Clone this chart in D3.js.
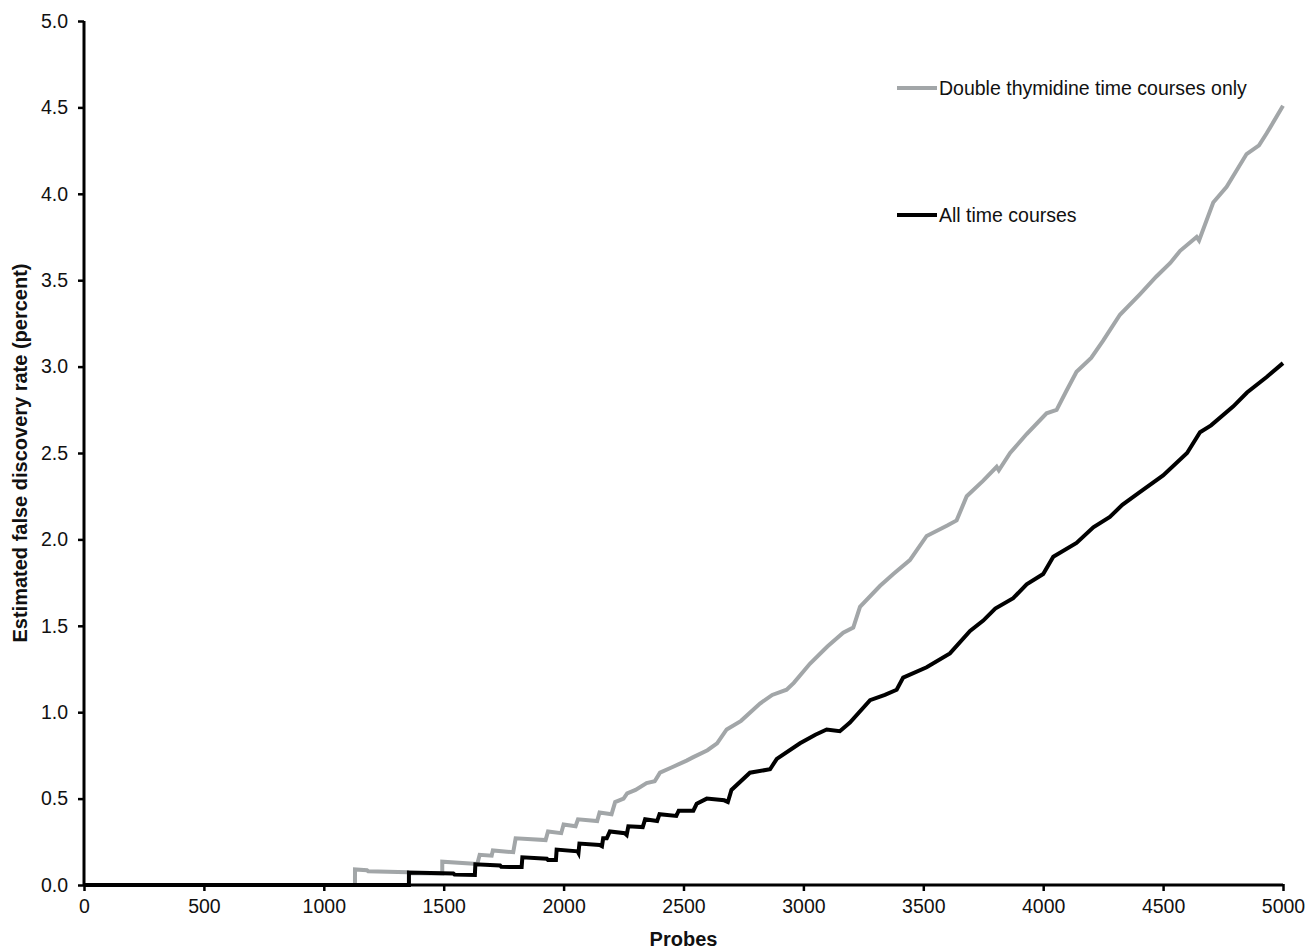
<!DOCTYPE html>
<html>
<head>
<meta charset="utf-8">
<script src="https://cdn.jsdelivr.net/npm/d3@7"></script>
<style>
  body { margin: 0; background: #fff; }
  text { font-family: "Liberation Sans", Arial, sans-serif; }
</style>
</head>
<body>
<svg id="chart"></svg>
<script>
// Series: probes and estimated FDR (percent)
var grayProbes = [0, 1130, 1130, 1180, 1185, 1350, 1355, 1494, 1494, 1610, 1640, 1650, 1700, 1705, 1790, 1800,
  1925, 1935, 1990, 2000, 2050, 2060, 2140, 2150, 2200, 2215, 2250, 2265, 2300, 2346, 2380, 2402, 2450,
  2513, 2541, 2600, 2640, 2680, 2740, 2819, 2870, 2930, 2960, 3027, 3100, 3166, 3208, 3236, 3319, 3375,
  3444, 3514, 3600, 3639, 3681, 3750, 3806, 3815, 3862, 3931, 4014, 4056, 4097, 4139, 4200, 4250, 4320,
  4404, 4471, 4530, 4571, 4640, 4650, 4709, 4765, 4848, 4900, 4932, 5000];
var grayValues = [0, 0, 0.09, 0.085, 0.08, 0.074, 0.068, 0.067, 0.135, 0.124, 0.122, 0.175, 0.17, 0.2, 0.19, 0.27,
  0.26, 0.31, 0.30, 0.35, 0.34, 0.38, 0.37, 0.42, 0.41, 0.48, 0.50, 0.53, 0.55, 0.59, 0.60, 0.65, 0.68,
  0.72, 0.74, 0.78, 0.82, 0.90, 0.95, 1.05, 1.10, 1.13, 1.17, 1.28, 1.38, 1.46, 1.49, 1.61, 1.73, 1.80,
  1.88, 2.02, 2.08, 2.11, 2.25, 2.34, 2.42, 2.40, 2.50, 2.61, 2.73, 2.75, 2.86, 2.97, 3.05, 3.15, 3.30,
  3.42, 3.52, 3.60, 3.67, 3.75, 3.73, 3.95, 4.04, 4.23, 4.28, 4.35, 4.51];

var blackProbes = [0, 1355, 1355, 1540, 1545, 1630, 1632, 1735, 1740, 1825, 1828, 1930, 1935, 1968, 1971, 2058,
  2062, 2066, 2150, 2160, 2165, 2180, 2193, 2255, 2263, 2270, 2330, 2340, 2390, 2400, 2470, 2480, 2541,
  2555, 2597, 2670, 2685, 2700, 2777, 2861, 2889, 2986, 3050, 3097, 3152, 3194, 3278, 3340, 3389, 3416,
  3514, 3611, 3695, 3750, 3800, 3875, 3931, 4000, 4042, 4139, 4209, 4278, 4330, 4400, 4500, 4600, 4654,
  4700, 4793, 4850, 4932, 5000];
var blackValues = [0, 0, 0.072, 0.066, 0.06, 0.058, 0.12, 0.113, 0.105, 0.104, 0.16, 0.152, 0.145, 0.145, 0.205, 0.195,
  0.185, 0.24, 0.232, 0.225, 0.27, 0.27, 0.31, 0.30, 0.29, 0.34, 0.335, 0.38, 0.37, 0.41, 0.40, 0.43, 0.43,
  0.47, 0.50, 0.49, 0.48, 0.55, 0.65, 0.67, 0.73, 0.82, 0.87, 0.90, 0.89, 0.94, 1.07, 1.10, 1.13, 1.20,
  1.26, 1.34, 1.47, 1.53, 1.60, 1.66, 1.74, 1.80, 1.90, 1.98, 2.07, 2.13, 2.20, 2.27, 2.37, 2.50, 2.62,
  2.66, 2.77, 2.85, 2.94, 3.02];

var seriesNames = ["Double thymidine time courses only", "All time courses"];
var seriesColors = ["#a2a6a8", "#000000"];

var xTicks = [0, 500, 1000, 1500, 2000, 2500, 3000, 3500, 4000, 4500, 5000];
var yTicks = [0, 0.5, 1, 1.5, 2, 2.5, 3, 3.5, 4, 4.5, 5];

var width = 1311, height = 952;
var margin = {left: 84, right: 28, top: 21, bottom: 67};

var svg = d3.select("#chart")
  .attr("width", width)
  .attr("height", height);

var x = d3.scaleLinear().domain([0, 5000]).range([margin.left, width - margin.right]);
var y = d3.scaleLinear().domain([0, 5]).range([height - margin.bottom, margin.top]);

// Axes
var xAxis = svg.append("g")
  .attr("transform", "translate(0," + y(0) + ")")
  .call(d3.axisBottom(x).tickValues(xTicks).tickSize(6).tickPadding(8).tickFormat(d3.format("d")));

var yAxis = svg.append("g")
  .attr("transform", "translate(" + x(0) + ",0)")
  .call(d3.axisLeft(y).tickValues(yTicks).tickSize(6).tickPadding(10).tickFormat(d3.format(".1f")));

[xAxis, yAxis].forEach(function (a) {
  a.select(".domain").attr("stroke", "#000").attr("stroke-width", 3);
  a.selectAll(".tick line").attr("stroke", "#000").attr("stroke-width", 2.5);
  a.selectAll(".tick text")
    .attr("fill", "#111")
    .style("font-size", "19.5px")
    .style("font-family", "'Liberation Sans', Arial, sans-serif");
});
xAxis.selectAll(".tick line").attr("y1", -1);
xAxis.select(".domain").attr("d", "M" + x(0) + ",0H" + x(5000));
yAxis.select(".domain").attr("d", "M0," + y(0) + "V" + y(5));

// Lines
var line = d3.line()
  .x(function (d) { return x(d[0]); })
  .y(function (d) { return y(d[1]); });

var grayData = d3.zip(grayProbes, grayValues);
var blackData = d3.zip(blackProbes, blackValues);

svg.append("path")
  .datum(grayData)
  .attr("fill", "none")
  .attr("stroke", seriesColors[0])
  .attr("stroke-width", 4)
  .attr("stroke-linejoin", "miter")
  .attr("d", line);

svg.append("path")
  .datum(blackData)
  .attr("fill", "none")
  .attr("stroke", seriesColors[1])
  .attr("stroke-width", 4)
  .attr("stroke-linejoin", "miter")
  .attr("d", line);

// Legend
var legendY = [88, 215];
seriesNames.forEach(function (name, i) {
  svg.append("line")
    .attr("x1", 897).attr("x2", 937)
    .attr("y1", legendY[i]).attr("y2", legendY[i])
    .attr("stroke", seriesColors[i])
    .attr("stroke-width", 4);
  svg.append("text")
    .attr("x", 939)
    .attr("y", legendY[i])
    .attr("dy", "0.35em")
    .attr("fill", "#111")
    .style("font-size", "19.5px")
    .text(name);
});

// Axis titles
svg.append("text")
  .attr("x", (x(0) + x(5000)) / 2)
  .attr("y", 946)
  .attr("text-anchor", "middle")
  .attr("fill", "#111")
  .style("font-size", "20px")
  .style("font-weight", "bold")
  .text("Probes");

svg.append("text")
  .attr("transform", "translate(27," + (y(0) + y(5)) / 2 + ")rotate(-90)")
  .attr("text-anchor", "middle")
  .attr("fill", "#111")
  .style("font-size", "20px")
  .style("font-weight", "bold")
  .text("Estimated false discovery rate (percent)");
</script>
</body>
</html>
